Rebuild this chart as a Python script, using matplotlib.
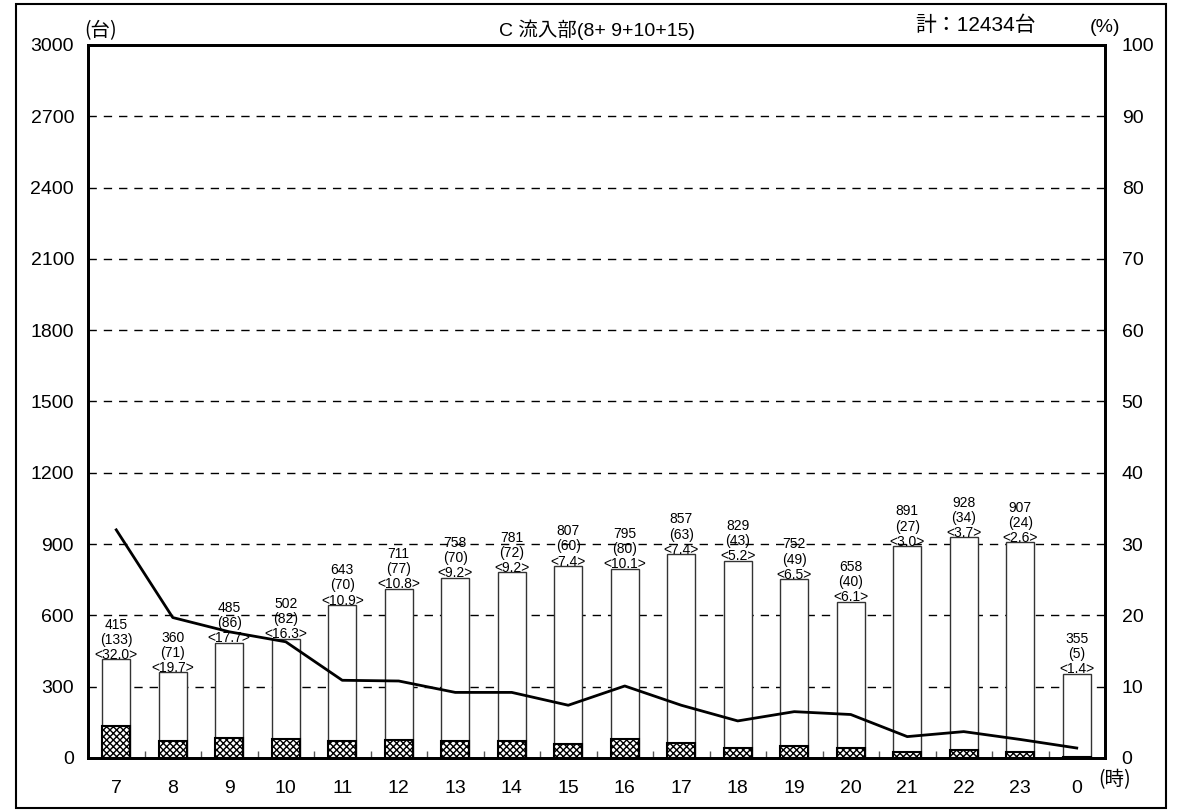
import matplotlib
matplotlib.use('Agg')
import matplotlib.pyplot as plt
from matplotlib.patches import Rectangle
import numpy as np

plt.rcParams['font.family'] = ['Liberation Sans', 'Noto Sans CJK JP', 'DejaVu Sans']
plt.rcParams['hatch.linewidth'] = 1.0

# data
hours = ['7', '8', '9', '10', '11', '12', '13', '14', '15', '16', '17', '18', '19', '20', '21', '22', '23', '0']
total = [415, 360, 485, 502, 643, 711, 758, 781, 807, 795, 857, 829, 752, 658, 891, 928, 907, 355]
large = [133, 71, 86, 82, 70, 77, 70, 72, 60, 80, 63, 43, 49, 40, 27, 34, 24, 5]
ratio = [32.0, 19.7, 17.7, 16.3, 10.9, 10.8, 9.2, 9.2, 7.4, 10.1, 7.4, 5.2, 6.5, 6.1, 3.0, 3.7, 2.6, 1.4]
left_ticks = [0, 300, 600, 900, 1200, 1500, 1800, 2100, 2400, 2700, 3000]
right_ticks = [0, 10, 20, 30, 40, 50, 60, 70, 80, 90, 100]
title = 'C 流入部(8+ 9+10+15)'
grand = '計：12434台'

W, H = 1181, 811
fig = plt.figure(figsize=(W / 100, H / 100), dpi=100)
ax = fig.add_axes([88 / W, 1 - 758 / H, (1105 - 88) / W, (758 - 45) / H])
ax2 = ax.twinx()

x = np.arange(len(hours))
ax.bar(x, total, 0.5, color='white', edgecolor='#333333', linewidth=1.0, zorder=3)
ax.bar(x, large, 0.5, color='white', edgecolor='black', hatch='xxxxx', linewidth=1.5, zorder=4)

for i in range(len(hours)):
    ax.text(x[i], total[i] - 10, '%d\n(%d)\n<%.1f>' % (total[i], large[i], ratio[i]),
            ha='center', va='bottom', fontsize=10, linespacing=1.1, zorder=6)

ax.set_ylim(0, 3000)
ax.set_xlim(-0.5, len(hours) - 0.5)
ax.set_yticks(left_ticks)
for v in left_ticks[1:-1]:
    ax.axhline(v, color='black', linestyle=(0, (6, 5)), linewidth=1.0, zorder=1)

ax.set_xticks(x)
ax.set_xticklabels(hours)
ax.set_xticks(np.arange(0.5, len(hours) - 1, 1), minor=True)
ax.tick_params(axis='x', which='major', length=0, pad=16, labelsize=14)
ax.tick_params(axis='x', which='minor', direction='in', length=5, width=1, color='#555555')
ax.tick_params(axis='y', length=0, pad=10, labelsize=14)

ax2.plot(x, ratio, color='black', linewidth=2.0, zorder=5)
ax2.set_ylim(0, 100)
ax2.set_yticks(right_ticks)
ax2.tick_params(axis='y', length=0, pad=12, labelsize=14)

for a in (ax, ax2):
    for s in a.spines.values():
        s.set_linewidth(2.0)

fig.text(101 / W, 1 - 31 / H, '(台)', ha='center', va='center', fontsize=14,
         family=['Noto Sans CJK JP'])
fig.text(597 / W, 1 - 30 / H, title, ha='center', va='center', fontsize=14,
         family=['Liberation Sans', 'Noto Sans CJK JP'])
fig.text(976 / W, 1 - 25 / H, grand, ha='center', va='center', fontsize=15,
         family=['Liberation Sans', 'Noto Sans CJK JP'])
fig.text(1105 / W, 1 - 28 / H, '(%)', ha='center', va='center', fontsize=14)
fig.text(1115 / W, 1 - 780 / H, '(時)', ha='center', va='center', fontsize=14,
         family=['Noto Sans CJK JP'])

fig.patches.append(Rectangle((16 / W, 1 - 808 / H), (1166 - 16) / W, (808 - 4) / H,
                             transform=fig.transFigure, fill=False, edgecolor='black',
                             linewidth=1.5))

fig.savefig('out.png', dpi=100)
